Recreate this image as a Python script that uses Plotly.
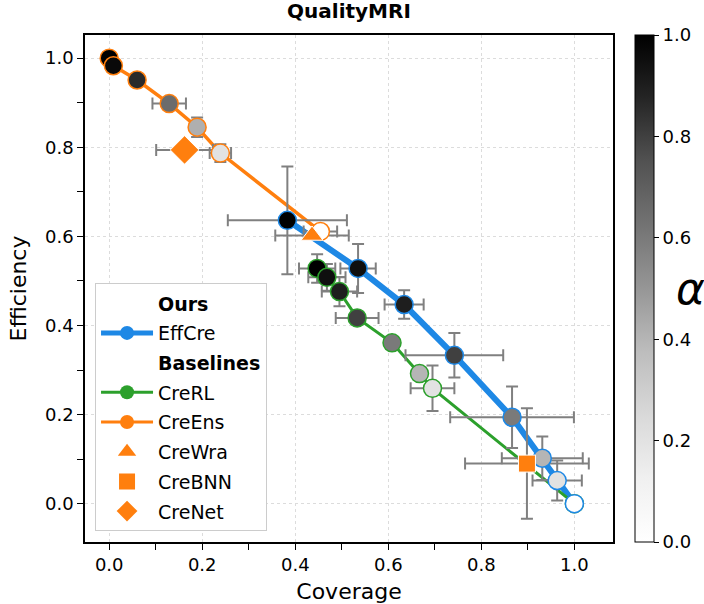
import plotly.graph_objects as go

# ---------------- data ----------------
alpha_levels = [1.0, 0.95, 0.9, 0.8, 0.6, 0.4, 0.2, 0.0]

effcre_cov = [0.383, 0.535, 0.634, 0.742, 0.866, 0.931, 0.963, 1.0]
effcre_eff = [0.636, 0.528, 0.447, 0.333, 0.194, 0.102, 0.052, 0.0]
effcre_xerr = [0.128, 0.038, 0.042, 0.105, 0.133, 0.087, 0.053, 0.0]
effcre_yerr = [0.121, 0.055, 0.032, 0.050, 0.069, 0.049, 0.045, 0.0]

crerl_cov = [0.447, 0.468, 0.495, 0.533, 0.608, 0.667, 0.695, 1.0]
crerl_eff = [0.528, 0.508, 0.476, 0.417, 0.361, 0.292, 0.259, 0.0]
crerl_xerr = [0.039, 0.040, 0.038, 0.046, 0.0, 0.0, 0.047, 0.0]
crerl_yerr = [0.032, 0.030, 0.033, 0.015, 0.0, 0.0, 0.051, 0.0]

creens_alpha = [1.0, 0.97, 0.86, 0.65, 0.42, 0.2, 0.0]
creens_cov = [0.0, 0.009, 0.060, 0.129, 0.189, 0.239, 0.454]
creens_eff = [1.0, 0.983, 0.951, 0.898, 0.845, 0.787, 0.611]
creens_xerr = [0.0, 0.0, 0.0, 0.036, 0.0, 0.023, 0.036]
creens_yerr = [0.0, 0.0, 0.0, 0.0, 0.022, 0.020, 0.0]

crewra_cov, crewra_eff, crewra_xerr, crewra_yerr = [0.436], [0.602], [0.079], [0.0]
crebnn_cov, crebnn_eff, crebnn_xerr, crebnn_yerr = [0.898], [0.090], [0.133], [0.124]
crenet_cov, crenet_eff, crenet_xerr, crenet_yerr = [0.162], [0.794], [0.061], [0.0]

x_ticks = [0.0, 0.2, 0.4, 0.6, 0.8, 1.0]
y_ticks = [0.0, 0.2, 0.4, 0.6, 0.8, 1.0]
cbar_ticks = [0.0, 0.2, 0.4, 0.6, 0.8, 1.0]

# ---------------- style ----------------
BLUE = "#1E88E5"
GREEN = "#2CA02C"
ORANGE = "#FF7F0E"
ERR = "#808080"
FONT = "DejaVu Sans"
greys = [[0.0, "#ffffff"], [0.125, "#f0f0f0"], [0.25, "#d9d9d9"], [0.375, "#bdbdbd"],
         [0.5, "#969696"], [0.625, "#737373"], [0.75, "#525252"], [0.875, "#252525"],
         [1.0, "#000000"]]

fig = go.Figure()

# lines
fig.add_trace(go.Scatter(x=effcre_cov, y=effcre_eff, mode="lines",
                         line=dict(color=BLUE, width=6), showlegend=False, hoverinfo="skip"))
fig.add_trace(go.Scatter(x=crerl_cov, y=crerl_eff, mode="lines",
                         line=dict(color=GREEN, width=3), showlegend=False, hoverinfo="skip"))
fig.add_trace(go.Scatter(x=creens_cov, y=creens_eff, mode="lines",
                         line=dict(color=ORANGE, width=3.5), showlegend=False, hoverinfo="skip"))


def errtrace(xs, ys, xe, ye):
    return go.Scatter(
        x=xs, y=ys, mode="markers",
        marker=dict(size=1, color="rgba(0,0,0,0)"),
        error_x=dict(type="data", array=xe, color=ERR, thickness=2, width=6),
        error_y=dict(type="data", array=ye, color=ERR, thickness=2, width=6),
        showlegend=False, hoverinfo="skip")


for xs, ys, xe, ye in [(effcre_cov, effcre_eff, effcre_xerr, effcre_yerr),
                       (crerl_cov, crerl_eff, crerl_xerr, crerl_yerr),
                       (creens_cov, creens_eff, creens_xerr, creens_yerr),
                       (crewra_cov, crewra_eff, crewra_xerr, crewra_yerr),
                       (crebnn_cov, crebnn_eff, crebnn_xerr, crebnn_yerr),
                       (crenet_cov, crenet_eff, crenet_xerr, crenet_yerr)]:
    fig.add_trace(errtrace(xs, ys, xe, ye))

# markers
fig.add_trace(go.Scatter(
    x=crerl_cov, y=crerl_eff, mode="markers", showlegend=False,
    marker=dict(size=18, color=alpha_levels, colorscale=greys, cmin=0, cmax=1,
                line=dict(color=GREEN, width=1.5))))
fig.add_trace(go.Scatter(
    x=effcre_cov, y=effcre_eff, mode="markers", showlegend=False,
    marker=dict(size=18, color=alpha_levels, colorscale=greys, cmin=0, cmax=1,
                line=dict(color=BLUE, width=1.5), showscale=True,
                colorbar=dict(thickness=19, len=1, lenmode="fraction",
                              x=1.0417, xanchor="left", xpad=0,
                              y=0.5, yanchor="middle", ypad=0,
                              outlinewidth=1, outlinecolor="black",
                              ticks="outside", ticklen=5, tickwidth=1, tickcolor="black",
                              tickvals=cbar_ticks, ticktext=[f"{v:.1f}" for v in cbar_ticks],
                              tickfont=dict(size=18, color="black", family=FONT)))))
fig.add_trace(go.Scatter(
    x=creens_cov, y=creens_eff, mode="markers", showlegend=False,
    marker=dict(size=18, color=creens_alpha, colorscale=greys, cmin=0, cmax=1,
                line=dict(color=ORANGE, width=1.5))))
fig.add_trace(go.Scatter(x=crewra_cov, y=crewra_eff, mode="markers", showlegend=False,
                         marker=dict(symbol="triangle-up", size=19, color=ORANGE,
                                     line=dict(color="white", width=1))))
fig.add_trace(go.Scatter(x=crebnn_cov, y=crebnn_eff, mode="markers", showlegend=False,
                         marker=dict(symbol="square", size=17, color=ORANGE,
                                     line=dict(color="white", width=1))))
fig.add_trace(go.Scatter(x=crenet_cov, y=crenet_eff, mode="markers", showlegend=False,
                         marker=dict(symbol="diamond", size=22, color=ORANGE,
                                     line=dict(color="white", width=1))))

# legend-only entries
legend_items = [
    ("<b>Ours</b>", dict(mode="markers", marker=dict(size=1, color="rgba(0,0,0,0)"))),
    ("EffCre", dict(mode="lines+markers", line=dict(color=BLUE, width=5),
                    marker=dict(size=14, color=BLUE))),
    ("<b>Baselines</b>", dict(mode="markers", marker=dict(size=1, color="rgba(0,0,0,0)"))),
    ("CreRL", dict(mode="lines+markers", line=dict(color=GREEN, width=3),
                   marker=dict(size=14, color=GREEN))),
    ("CreEns", dict(mode="lines+markers", line=dict(color=ORANGE, width=3),
                    marker=dict(size=14, color=ORANGE))),
    ("CreWra", dict(mode="markers", marker=dict(symbol="triangle-up", size=17, color=ORANGE))),
    ("CreBNN", dict(mode="markers", marker=dict(symbol="square", size=16, color=ORANGE))),
    ("CreNet", dict(mode="markers", marker=dict(symbol="diamond", size=20, color=ORANGE))),
]
for i, (name, kw) in enumerate(legend_items):
    fig.add_trace(go.Scatter(x=[None], y=[None], name=name, legendgroup=f"g{i}",
                             showlegend=True, **kw))

axis_common = dict(
    showline=True, linecolor="black", linewidth=1.5, mirror=True,
    ticks="outside", ticklen=6, tickwidth=1.2, tickcolor="black",
    showgrid=True, gridcolor="#dcdcdc", griddash="dot", gridwidth=1,
    zeroline=False, tickformat=".1f",
    tickfont=dict(size=18, color="black", family=FONT),
    minor=dict(ticks="outside", ticklen=6, tickwidth=1.2, tickcolor="black",
               dtick=0.1, showgrid=False),
)

fig.update_layout(
    width=704, height=604,
    margin=dict(l=85, r=91, t=35, b=62, autoexpand=False),
    paper_bgcolor="white", plot_bgcolor="white",
    font=dict(family=FONT, color="black"),
    title=dict(text="<b>QualityMRI</b>", x=0.4957, xref="container", xanchor="center",
               y=0.981, yref="container", yanchor="middle",
               font=dict(size=20, color="black", family=FONT)),
    xaxis=dict(range=[-0.052, 1.083], tickvals=x_ticks,
               title=dict(text="Coverage", font=dict(size=22), standoff=15), **axis_common),
    yaxis=dict(range=[-0.086, 1.052], tickvals=y_ticks,
               title=dict(text="Efficiency", font=dict(size=22), standoff=12), **axis_common),
    legend=dict(x=0.019, y=0.021, xanchor="left", yanchor="bottom",
                bgcolor="white", bordercolor="#cccccc", borderwidth=1,
                font=dict(size=19, color="black", family=FONT),
                tracegroupgap=2, itemwidth=52),
    annotations=[dict(text="<i>α</i>", x=1.146, y=0.5, xref="paper", yref="paper",
                      xanchor="center", yanchor="middle", showarrow=False,
                      font=dict(size=44, color="black", family=FONT))],
)

fig.write_html("out.html")
